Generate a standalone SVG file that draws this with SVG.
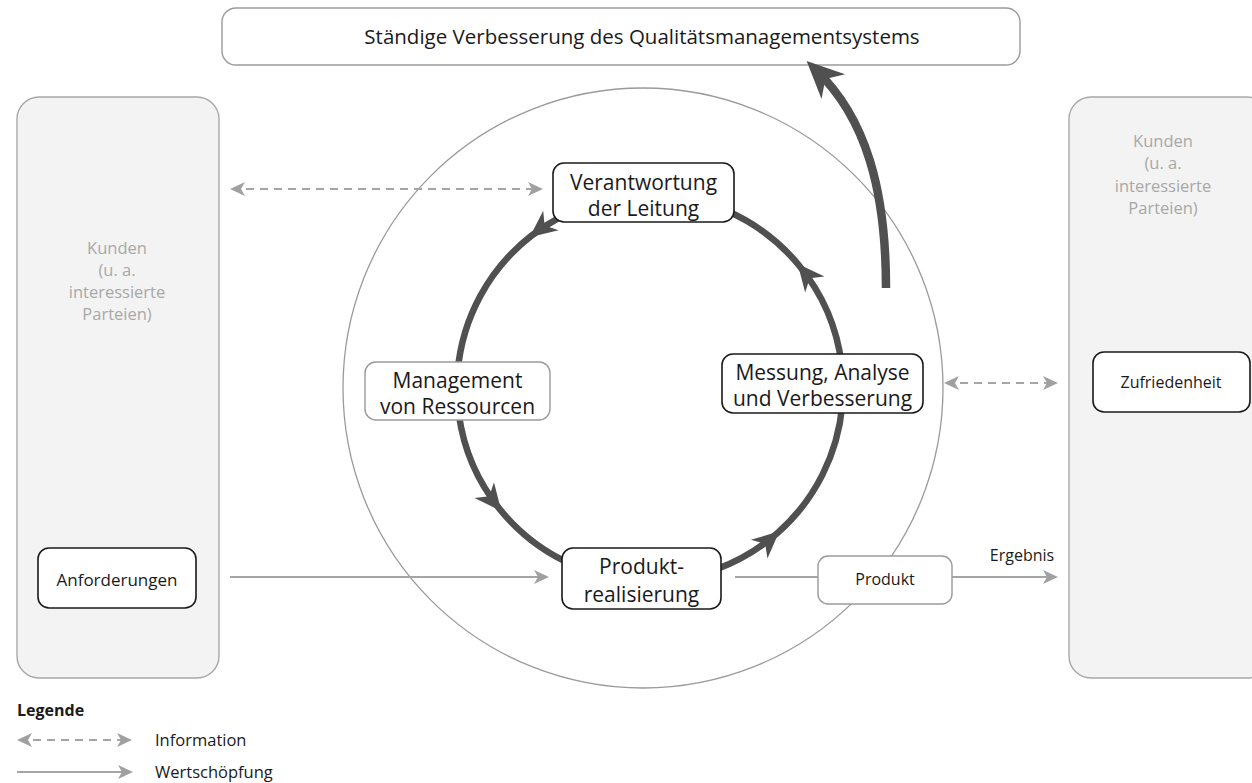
<svg xmlns="http://www.w3.org/2000/svg" width="1252" height="783" viewBox="0 0 1252 783">
<style>
text{font-family:"Open Sans","Noto Sans","Liberation Sans",sans-serif;fill:#1a1a1a}
.big{font-size:21px;text-anchor:middle}
.mid{font-size:17px;text-anchor:middle}
.pan{font-size:16.5px;text-anchor:middle;fill:#a8a8a8}
.leg{font-size:16.5px}
.bx{fill:#fff;stroke:#1a1a1a;stroke-width:1.6}
.bxg{fill:#fff;stroke:#9a9a9a;stroke-width:1.4}
.panel{fill:#f3f3f3;stroke:#a8a8a8;stroke-width:1.4}
.cyc{fill:none;stroke:#505050;stroke-width:6.5;marker-mid:url(#hc)}
.info{fill:none;stroke:#a5a5a5;stroke-width:2;stroke-dasharray:8 6;marker-start:url(#hg);marker-end:url(#hg)}
.val{fill:none;stroke:#a5a5a5;stroke-width:2}
</style>
<defs>
<marker id="hc" markerUnits="userSpaceOnUse" viewBox="-30 -15 34 30" markerWidth="34" markerHeight="30" refX="0" refY="0" orient="auto">
<path d="M2,0 L-25,-12.5 L-17,0 L-25,12.5 Z" fill="#505050"/>
</marker>
<marker id="hb" markerUnits="userSpaceOnUse" viewBox="-30 -20 46 40" markerWidth="46" markerHeight="40" refX="0" refY="0" orient="auto">
<path d="M13,0 L-24,-17 L-13,0 L-24,17 Z" fill="#505050"/>
</marker>
<marker id="hg" markerUnits="userSpaceOnUse" viewBox="-16 -9 20 18" markerWidth="20" markerHeight="18" refX="0" refY="0" orient="auto-start-reverse">
<path d="M2,0 L-13,-7 L-9,0 L-13,7 Z" fill="#a0a0a0"/>
</marker>
</defs>

<g id="panel-left">
<rect class="panel" x="17" y="97" width="202" height="581" rx="22"/>
<text class="pan" x="117" y="254">Kunden</text>
<text class="pan" x="117" y="276">(u. a.</text>
<text class="pan" x="117" y="298">interessierte</text>
<text class="pan" x="117" y="320">Parteien)</text>
</g>
<g id="panel-right">
<rect class="panel" x="1069" y="97" width="200" height="581" rx="22"/>
<text class="pan" x="1163" y="147">Kunden</text>
<text class="pan" x="1163" y="169">(u. a.</text>
<text class="pan" x="1163" y="192">interessierte</text>
<text class="pan" x="1163" y="214">Parteien)</text>
</g>

<g id="outer-circle">
<circle cx="643" cy="388" r="300" fill="none" stroke="#9a9a9a" stroke-width="1.3"/>
</g>

<g id="top-box">
<rect x="222" y="8" width="798" height="57" rx="14" fill="#fff" stroke="#9a9a9a" stroke-width="1.4"/>
<text class="big" x="642" y="44" style="font-size:20.5px">Ständige Verbesserung des Qualitätsmanagementsystems</text>
</g>

<g id="connectors">
<path class="cyc" d="M559.4,217.6 A193,193 0 0 0 531.2,235.9 A193,193 0 0 0 457.7,371.2"/>
<path class="cyc" d="M458.9,414.9 A193,193 0 0 0 500.0,509.5 A193,193 0 0 0 571.5,564.3"/>
<path class="cyc" d="M716.0,569.4 A193,193 0 0 0 777.9,532.6 A193,193 0 0 0 842.3,404.8"/>
<path class="cyc" d="M841.6,364.5 A193,193 0 0 0 798.9,265.2 A193,193 0 0 0 725.4,210.3"/>
<path d="M886,288 C886,190 866,118 816,70" fill="none" stroke="#505050" stroke-width="8.5" marker-end="url(#hb)"/>
<path class="info" d="M232,189 L541,189"/>
<path class="info" d="M946,383 L1056,383"/>
<path class="val" d="M230,577 L547,577" marker-end="url(#hg)"/>
<path class="val" d="M735,577 L818,577"/>
<path class="val" d="M952,577 L1056,577" marker-end="url(#hg)"/>
<text class="mid" x="1022" y="561" style="font-size:16px">Ergebnis</text>
</g>

<g id="verantwortung">
<rect class="bx" x="553" y="163" width="181" height="59" rx="11"/>
<text class="big" x="643.5" y="190">Verantwortung</text>
<text class="big" x="643.5" y="216">der Leitung</text>
</g>
<g id="management">
<rect class="bxg" x="365" y="362" width="185" height="58" rx="11"/>
<text class="big" x="457.5" y="388">Management</text>
<text class="big" x="457.5" y="414">von Ressourcen</text>
</g>
<g id="messung">
<rect class="bx" x="722" y="354" width="201" height="59" rx="11"/>
<text class="big" x="822.5" y="380">Messung, Analyse</text>
<text class="big" x="822.5" y="406">und Verbesserung</text>
</g>
<g id="produktrealisierung">
<rect class="bx" x="562" y="548" width="159" height="61" rx="11"/>
<text class="big" x="641.5" y="574">Produkt-</text>
<text class="big" x="641.5" y="602">realisierung</text>
</g>
<g id="produkt">
<rect class="bxg" x="818" y="556" width="134" height="48" rx="10"/>
<text class="mid" x="885" y="585" style="font-size:16px">Produkt</text>
</g>
<g id="anforderungen">
<rect class="bx" x="38" y="548" width="158" height="60" rx="11"/>
<text class="mid" x="117" y="586">Anforderungen</text>
</g>
<g id="zufriedenheit">
<rect class="bx" x="1093" y="352" width="157" height="60" rx="11"/>
<text class="mid" x="1171" y="388" style="font-size:16px">Zufriedenheit</text>
</g>

<g id="legend">
<text class="leg" x="17" y="716" style="font-weight:bold;font-size:16px">Legende</text>
<path class="info" d="M19,740 L130,740"/>
<text class="leg" x="155" y="746">Information</text>
<path class="val" d="M17,772 L131,772" marker-end="url(#hg)"/>
<text class="leg" x="155" y="778">Wertschöpfung</text>
</g>
</svg>
